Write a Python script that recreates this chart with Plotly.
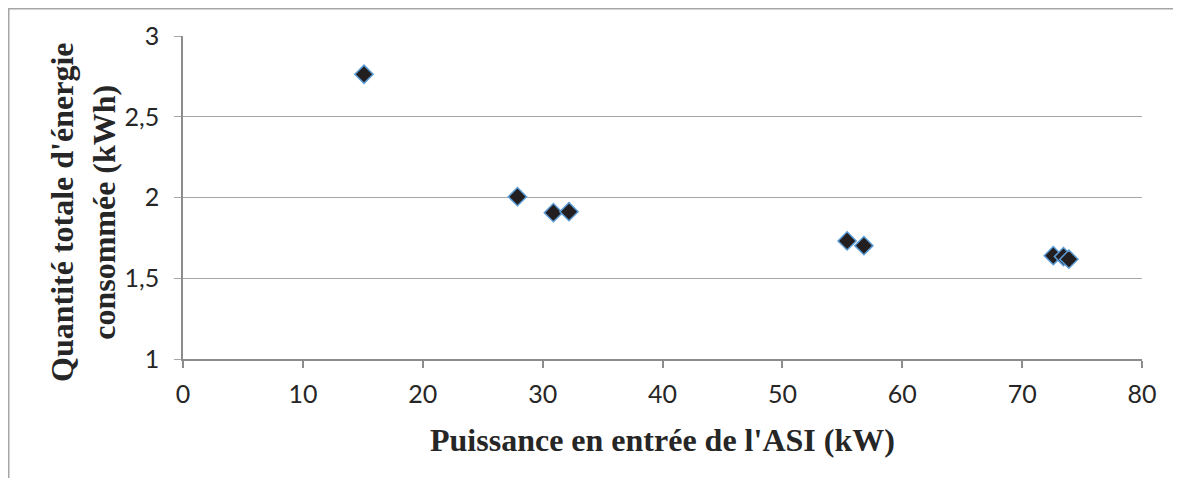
import plotly.graph_objects as go

# Data
puissance_kw = [15.1, 27.9, 30.9, 32.2, 55.4, 56.8, 72.6, 73.45, 73.9]
energie_kwh = [2.763, 2.005, 1.906, 1.912, 1.731, 1.702, 1.640, 1.634, 1.618]

x_ticks = [0, 10, 20, 30, 40, 50, 60, 70, 80]
y_ticks = [1, 1.5, 2, 2.5, 3]
y_ticklabels = ["1", "1,5", "2", "2,5", "3"]

x_title = "Puissance en entrée de l'ASI (kW)"
y_title = "Quantité totale d'énergie<br>consommée (kWh)"

# page body has an 8px margin, so the figure is drawn 8px in from the window
W, H = 1165, 470
ML, MR, MT, MB = 175, 31, 28, 119
pw, ph = W - ML - MR, H - MT - MB
bottom = MT + ph


def px_x(p):
    return (p - ML) / pw


def px_y(p):
    return (bottom - p) / ph


fig = go.Figure()
fig.add_trace(go.Scatter(
    x=puissance_kw, y=energie_kwh, mode="markers",
    marker=dict(symbol="diamond", size=14, color="#231F20",
                line=dict(color="#5B9BD5", width=1.5)),
    showlegend=False, hoverinfo="x+y",
))

tick_font = dict(family="Lato, Carlito, sans-serif", size=25, color="#262626")
title_font = dict(family="Liberation Serif, Times New Roman, serif", size=32, color="#262626")

fig.update_layout(
    width=W, height=H,
    margin=dict(l=ML, r=MR, t=MT, b=MB, pad=0),
    paper_bgcolor="white", plot_bgcolor="white",
    xaxis=dict(
        range=[0, 80], tickvals=x_ticks, ticktext=[str(v) for v in x_ticks],
        showgrid=False, zeroline=False,
        showline=True, linecolor="#8C8C8C", linewidth=1.5,
        ticks="outside", ticklen=7, tickcolor="#8C8C8C", tickwidth=1.5,
        tickfont=tick_font, ticklabelstandoff=5, fixedrange=True,
    ),
    yaxis=dict(
        range=[1, 3], tickvals=y_ticks, ticktext=y_ticklabels,
        showgrid=True, gridcolor="#A6A6A6", gridwidth=1.2,
        zeroline=False,
        showline=True, linecolor="#8C8C8C", linewidth=1.5,
        ticks="outside", ticklen=7, tickcolor="#A6A6A6", tickwidth=1.2,
        tickfont=tick_font, ticklabelstandoff=10, fixedrange=True,
    ),
    annotations=[
        dict(text="<b>" + x_title + "</b>", xref="paper", yref="paper",
             x=0.5, y=px_y(432),
             xanchor="center", yanchor="middle", showarrow=False,
             font=title_font),
        dict(text="<b>" + y_title + "</b>", xref="paper", yref="paper",
             x=px_x(75), y=px_y(205),
             xanchor="center", yanchor="middle", showarrow=False, textangle=-90,
             font=title_font),
    ],
    shapes=[
        dict(type="line", xref="paper", yref="paper",
             x0=px_x(0.75), x1=px_x(0.75), y0=px_y(0), y1=px_y(H),
             line=dict(color="#A6A6A6", width=1.5)),
        dict(type="line", xref="paper", yref="paper",
             x0=px_x(0), x1=px_x(W), y0=px_y(0.75), y1=px_y(0.75),
             line=dict(color="#A6A6A6", width=1.5)),
    ],
)

fig.write_html("out.html")
